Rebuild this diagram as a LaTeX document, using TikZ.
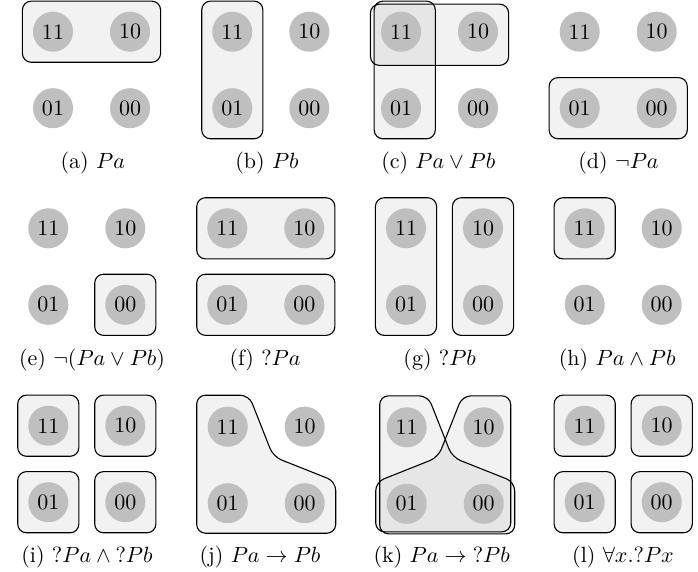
\documentclass[tikz,border=0pt]{standalone}
\usetikzlibrary{fit,calc,backgrounds}
\begin{document}
\begin{tikzpicture}[
                    x=0.4545pt, y=-0.4545pt,
                    world/.style={circle, fill=black!25, minimum size=18.2pt, inner sep=0pt, outer sep=0pt},
                    cell/.style={draw, line width=0.5pt, rounded corners=4pt, fill=black, fill opacity=0.05, inner sep=4.8pt}
                    ]
                    \useasboundingbox (0,0) rectangle (698,571);

                    \foreach \p/\x/\y in {a/53/31.7, b/232.3/31.7, c/401/31.7, d/579.7/31.7,
                                          e/48.3/228.3, f/227.3/228.3, g/406/228.3, h/584.7/228.3,
                                          i/48.3/425.7, j/227.7/426.7, k/406.7/427.3, l/584.7/425.7}{
                        \node[world] (\p11) at (\x,\y) {11};
                        \node[world] (\p10) at (\x+77,\y) {10};
                        \node[world] (\p01) at (\x,\y+76.5) {01};
                        \node[world] (\p00) at (\x+77,\y+76.5) {00};
                    }

                    \foreach \p/\x/\y/\lab in {a/92.8/163/{$Pa$}, b/267/163/{$Pb$},
                                               c/438.3/163/{$Pa \vee Pb$}, d/618.5/163/{$\neg Pa$},
                                               e/92/360/{$\neg(Pa \vee Pb)$}, f/265/360/{${?}Pa$},
                                               g/439.7/360/{${?}Pb$}, h/617.2/360/{$Pa \wedge Pb$},
                                               i/87/557/{${?}Pa \wedge {?}Pb$}, j/260/557/{$Pa \rightarrow Pb$},
                                               k/441.7/557/{$Pa \rightarrow {?}Pb$}, l/623/557/{$\forall x.{?}Px$}}{
                        \node (cap\p) at (\x,\y) {(\p) \lab};
                    }

                    \begin{scope}[on background layer]
                        \node[cell, fit=(a11)(a10)] (boxa) {};
                        \node[cell, fit=(b11)(b01)] (boxb) {};
                        \node[cell, fit=(c11)(c10), yshift=-1.4pt] (boxca) {};
                        \node[cell, fit=(c11)(c01), xshift=1.7pt] (boxcb) {};
                        \node[cell, fit=(d01)(d00)] (boxd) {};
                        \node[cell, fit=(e00)] (boxe) {};
                        \node[cell, fit=(f11)(f10)] (boxfa) {};
                        \node[cell, fit=(f01)(f00)] (boxfb) {};
                        \node[cell, fit=(g11)(g01)] (boxga) {};
                        \node[cell, fit=(g10)(g00)] (boxgb) {};
                        \node[cell, fit=(h11)] (boxh) {};
                        \foreach \p in {i,l}{
                            \foreach \w in {11,10,01,00}{
                                \node[cell, fit=(\p\w)] (box\p\w) {};
                            }
                        }
                        \draw[cell] ($(j11)+(-31,-31.5)$) -- ($(j11)+(21.3,-31.5)$) -- ($(j10)+(-31.4,30)$)
                            -- ($(j00)+(31,-21.7)$) -- ($(j00)+(31,30)$) -- ($(j01)+(-31,30)$) -- cycle;
                        \draw[cell] ($(k11)+(-27,-31.5)$) -- ($(k11)+(21.3,-31.5)$) -- ($(k10)+(-31.4,30)$)
                            -- ($(k00)+(31,-21.7)$) -- ($(k00)+(31,30)$) -- ($(k01)+(-27,30)$) -- cycle;
                        \draw[cell] ($(k10)+(27,-31.5)$) -- ($(k10)+(-21.3,-31.5)$) -- ($(k11)+(31.4,30)$)
                            -- ($(k01)+(-31,-21.7)$) -- ($(k01)+(-31,28)$) -- ($(k00)+(27,28)$) -- cycle;
                    \end{scope}
                \end{tikzpicture}
\end{document}
